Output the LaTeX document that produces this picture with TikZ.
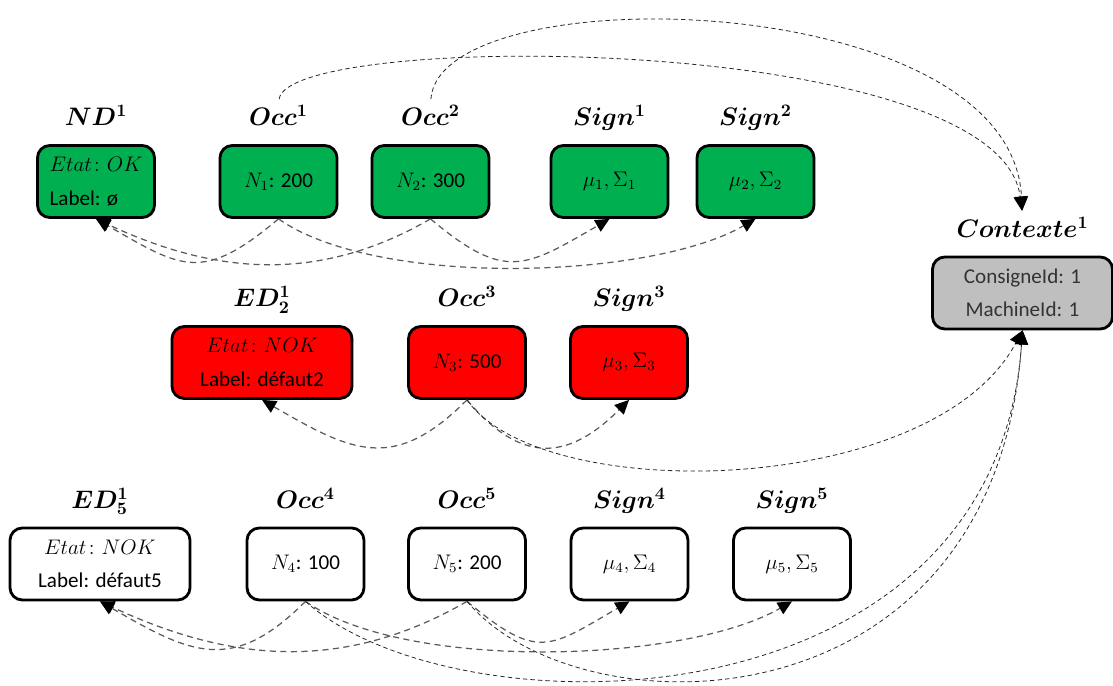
\documentclass[tikz,border=0pt]{standalone}
\usepackage{amsmath,bm}
\usepackage{fontspec}
\setmainfont{Carlito}
\usetikzlibrary{positioning,arrows.meta}
\definecolor{vert}{RGB}{0,176,80}
\definecolor{rouge}{RGB}{255,0,0}
\definecolor{gris}{RGB}{191,191,191}
\definecolor{trait}{RGB}{90,90,90}

\begin{document}
\begin{tikzpicture}[
  boite/.style={draw=black, line width=1.6pt, rounded corners=7pt, minimum width=2.34cm, minimum height=1.44cm, align=center, inner sep=2pt, font=\fontsize{12}{15}\selectfont},
  large/.style={minimum width=3.6cm},
  titre/.style={inner sep=1pt, text height=1.1em, text depth=0.35em, font=\fontsize{14}{16}\selectfont},
  lien/.style={draw=trait, line width=0.7pt, dash pattern=on 3.5pt off 2.5pt, -{Triangle[length=8pt,width=7.5pt,color=black]}},
  lienctx/.style={draw=black!85, line width=0.45pt, dash pattern=on 2.5pt off 1.8pt, -{Triangle[length=8pt,width=7.5pt,color=black]}}
]
\useasboundingbox (0,0) rectangle (22.26,13.72);

% ligne verte
\node[boite, fill=vert, align=left] (nd1) at (1.92,10.09) {$Etat\colon OK$\\[4pt]Label: ø};
\node[boite, fill=vert] (occ1) at (5.57,10.09) {$N_1$: 200};
\node[boite, fill=vert] (occ2) at (8.61,10.09) {$N_2$: 300};
\node[boite, fill=vert] (sign1) at (12.19,10.09) {$\mu_1, \Sigma_1$};
\node[boite, fill=vert] (sign2) at (15.11,10.09) {$\mu_2, \Sigma_2$};

% ligne rouge
\node[boite, large, fill=rouge] (ed2) at (5.24,6.47) {$Etat\colon NOK$\\[4pt]Label: défaut2};
\node[boite, fill=rouge] (occ3) at (9.34,6.47) {$N_3$: 500};
\node[boite, fill=rouge] (sign3) at (12.58,6.47) {$\mu_3, \Sigma_3$};

% ligne blanche
\node[boite, large] (ed5) at (2.0,2.44) {$Etat\colon NOK$\\[4pt]Label: défaut5};
\node[boite] (occ4) at (6.11,2.44) {$N_4$: 100};
\node[boite] (occ5) at (9.34,2.44) {$N_5$: 200};
\node[boite] (sign4) at (12.59,2.44) {$\mu_4, \Sigma_4$};
\node[boite] (sign5) at (15.84,2.44) {$\mu_5, \Sigma_5$};

% contexte
\node[boite, large, fill=gris, text=black!80] (ctx) at (20.45,7.86) {ConsigneId: 1\\[4pt]MachineId: 1};

% titres
\foreach \n/\t in {nd1/ND^1, occ1/Occ^1, occ2/Occ^2, sign1/Sign^1, sign2/Sign^2,
  ed2/ED_2^1, occ3/Occ^3, sign3/Sign^3,
  ed5/ED_5^1, occ4/Occ^4, occ5/Occ^5, sign4/Sign^4, sign5/Sign^5, ctx/Contexte^1}
  \node[titre, above=2mm of \n] (t\n) {$\bm{\t}$};

% liens ligne verte
\draw[lien] (occ1.south) to[out=-140, in=-30, looseness=1.4] (nd1.south);
\draw[lien] (occ2.south) to[out=-150, in=-25] (nd1.south);
\draw[lien] (occ1.south) to[out=-35, in=-150, looseness=0.65] (sign2.south);
\draw[lien] (occ2.south) to[out=-40, in=-150, looseness=1.4] (sign1.south);
\draw[lienctx, shorten <=3pt, shorten >=3pt] (tocc1.north) .. controls +(83:1.5) and +(97:3.7) .. (tctx.north);
\draw[lienctx, shorten <=3pt, shorten >=3pt] (tocc2.north) .. controls +(86:2.6) and +(93:4.6) .. (tctx.north);

% liens ligne rouge
\draw[lien] (occ3.south) to[out=-135, in=-30, looseness=1.3] (ed2.south);
\draw[lien] (occ3.south) to[out=-50, in=-135, looseness=1.35] (sign3.south);
\draw[lienctx] (occ3.south) .. controls +(-55:2.6) and +(-118:3.8) .. (ctx.south);

% liens ligne blanche
\draw[lien] (occ4.south) to[out=-135, in=-30, looseness=1.3] (ed5.south);
\draw[lien] (occ5.south) to[out=-150, in=-25] (ed5.south);
\draw[lien] (occ4.south) to[out=-35, in=-150, looseness=0.65] (sign5.south);
\draw[lien] (occ5.south) to[out=-40, in=-150, looseness=1.47] (sign4.south);
\draw[lienctx] (occ4.south) .. controls +(-42:4) and +(-94:8.1) .. (ctx.south);
\draw[lienctx] (occ5.south) .. controls +(-50:3.5) and +(-94:8.1) .. (ctx.south);
\end{tikzpicture}
\end{document}
